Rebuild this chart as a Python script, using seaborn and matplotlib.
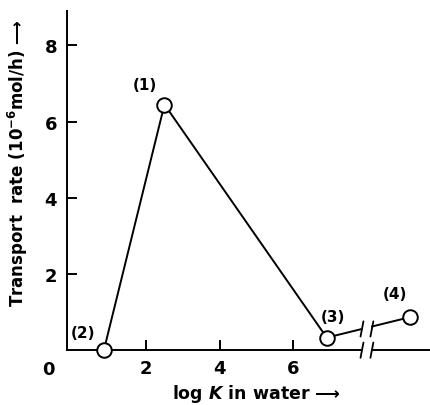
import matplotlib
matplotlib.use("Agg")
import matplotlib.pyplot as plt
import seaborn as sns
import numpy as np
import pandas as pd

# values
log_k = [0.85, 2.5, 6.92, 9.2]
rate = [0.0, 6.45, 0.33, 0.87]
labels = ["(2)", "(1)", "(3)", "(4)"]
label_offsets = [(-0.58, 0.47), (-0.54, 0.53), (0.18, 0.56), (-0.42, 0.63)]

xticks = [2, 4, 6]
yticks = [2, 4, 6, 8]
break_lo, break_hi = 7.88, 8.15

sns.set_theme(style="white")
plt.rcParams['font.family'] = ['DejaVu Sans']
plt.rcParams['font.weight'] = 'bold'
plt.rcParams['text.color'] = 'black'

fig = plt.figure(figsize=(4.31, 4.06), dpi=100)
ax = fig.add_axes([0.155, 0.135, 0.845, 0.835])

df = pd.DataFrame({"x": log_k, "y": rate})
xmin, xmax = -0.16, 9.76

# main curve (2)-(1)-(3)
sns.lineplot(data=df.iloc[:3], x="x", y="y", sort=False, color="black", lw=1.4, ax=ax)
# broken segment (3)-(4)
x3, y3 = log_k[2], rate[2]
x4, y4 = log_k[3], rate[3]
slope = (y4 - y3) / (x4 - x3)
ax.plot([x3, break_lo], [y3, y3 + slope * (break_lo - x3)], color="black", lw=1.4)
ax.plot([break_hi, x4], [y3 + slope * (break_hi - x3), y4], color="black", lw=1.4)

sns.scatterplot(data=df, x="x", y="y", s=110, facecolor="white", edgecolor="black",
                linewidth=1.4, zorder=5, clip_on=False, ax=ax)

for lx, ly, lab, (dx, dy) in zip(log_k, rate, labels, label_offsets):
    ax.text(lx + dx, ly + dy, lab, fontsize=11, fontweight="bold", ha="center",
            va="center", color="black")

# axes lines
ax.spines[["top", "right", "bottom"]].set_visible(False)
ax.spines["left"].set_linewidth(1.4)
ax.spines["left"].set_color("black")
ax.plot([xmin, break_lo], [0, 0], color="black", lw=1.4, clip_on=False)
ax.plot([break_hi, xmax], [0, 0], color="black", lw=1.4, clip_on=False)

# break marks
for yb in [0.0, y3 + slope * (break_lo - x3)]:
    for bx in [break_lo, break_hi]:
        ax.plot([bx - 0.04, bx + 0.04], [yb - 0.2, yb + 0.2], color="black", lw=1.3, clip_on=False)

ax.set_xlim(xmin, xmax)
ax.set_ylim(0, 8.9)
ax.set_xticks(xticks)
ax.set_yticks(yticks)
ax.tick_params(direction="in", length=7, width=1.4, colors="black", labelsize=13, pad=6,
               bottom=True, left=True)
ax.tick_params(axis="y", pad=7)
ax.text(-0.05, -0.028, "0", transform=ax.transAxes, fontsize=13, fontweight="bold",
        ha="center", va="top", color="black")

ax.set_xlabel(r"log $\mathit{K}$ in water ⟶", fontsize=12.5, fontweight="bold",
              color="black")
ax.xaxis.set_label_coords(0.52, -0.095)
ax.set_ylabel(r"Transport  rate (10$^{\mathbf{-6}}$mol/h) ⟶", fontsize=12,
              fontweight="bold", color="black")
ax.yaxis.set_label_coords(-0.1, 0.555)
ax.grid(False)

fig.savefig("out.png", dpi=100)
